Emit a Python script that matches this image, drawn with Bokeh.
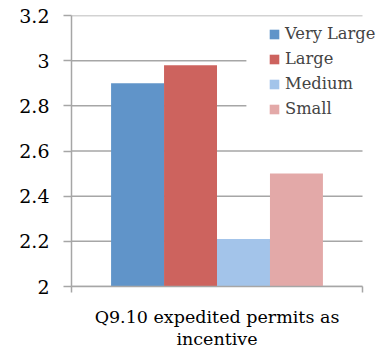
from bokeh.plotting import figure
from bokeh.models import Range1d, FixedTicker, BoxAnnotation, Legend, LegendItem
from bokeh.embed import file_html
from bokeh.resources import INLINE

# Data
category = "Q9.10 expedited permits as\nincentive"
groups = ["Very Large", "Large", "Medium", "Small"]
values = [2.90, 2.98, 2.21, 2.50]
colors = ["#6094C9", "#CD635E", "#A3C4EA", "#E3A9A8"]
y_ticks = [2.0, 2.2, 2.4, 2.6, 2.8, 3.0, 3.2]
y_tick_labels = ["2", "2.2", "2.4", "2.6", "2.8", "3", "3.2"]

FONT = "DejaVu Serif"
GRID = "#A6A6A6"

p = figure(width=385, height=351, output_backend="svg", toolbar_location=None,
           x_range=Range1d(0, 1.079), y_range=Range1d(2.0, 3.2),
           min_border_left=71, min_border_right=0, min_border_top=15, min_border_bottom=64)
p.outline_line_color = None
p.background_fill_color = "white"
p.xgrid.grid_line_color = None
p.ygrid.grid_line_color = None

# horizontal gridlines spanning the category area only
p.segment(x0=0, x1=1, y0=y_ticks, y1=y_ticks, line_color=GRID, line_width=1.5)

bar_w = 0.182
renderers = []
for i, (g, v, c) in enumerate(zip(groups, values, colors)):
    x = 0.5 + (i - (len(groups) - 1) / 2) * bar_w
    r = p.vbar(x=[x], top=[v], bottom=2.0, width=bar_w, fill_color=c, line_color=None)
    renderers.append((g, r))

# white backdrop behind legend (hides gridlines)
p.add_layout(BoxAnnotation(left=0.601, right=1.05, top=3.155, bottom=2.72,
                           fill_color="white", fill_alpha=1.0, line_color=None))

# Axes
p.yaxis.ticker = FixedTicker(ticks=y_ticks)
p.yaxis.major_label_overrides = {t: l for t, l in zip(y_ticks, y_tick_labels)}
p.yaxis.major_label_text_font = FONT
p.yaxis.major_label_text_font_size = "19px"
p.yaxis.major_label_text_color = "black"
p.yaxis.major_tick_out = 8
p.yaxis.major_tick_in = 0
p.yaxis.minor_tick_line_color = None
p.yaxis.axis_line_color = GRID
p.yaxis.major_tick_line_color = GRID
p.yaxis.axis_line_width = 1.5
p.yaxis.major_tick_line_width = 1.5
p.yaxis.major_label_standoff = 14

p.xaxis.bounds = (0, 1)
p.xaxis.ticker = FixedTicker(ticks=[0.5], minor_ticks=[0.0, 1.0])
p.xaxis.major_label_overrides = {0.5: category}
p.xaxis.major_label_text_font = FONT
p.xaxis.major_label_text_font_size = "17.5px"
p.xaxis.major_label_text_line_height = 1.12
p.xaxis.major_label_text_color = "black"
p.xaxis.major_tick_line_color = None
p.xaxis.major_tick_out = 0
p.xaxis.minor_tick_line_color = GRID
p.xaxis.minor_tick_out = 6
p.xaxis.minor_tick_in = 0
p.xaxis.minor_tick_line_width = 1.5
p.xaxis.axis_line_color = GRID
p.xaxis.axis_line_width = 1.5
p.xaxis.major_label_standoff = 14

legend = Legend(items=[LegendItem(label=g, renderers=[r]) for g, r in renderers],
                location=(197, 165), padding=0, spacing=0, margin=0,
                glyph_width=12, glyph_height=12, label_height=25, label_standoff=5,
                label_text_font=FONT, label_text_font_size="16.3px",
                background_fill_alpha=0, border_line_color=None)
p.add_layout(legend, "center")

open("out.html", "w").write(file_html(p, INLINE))
